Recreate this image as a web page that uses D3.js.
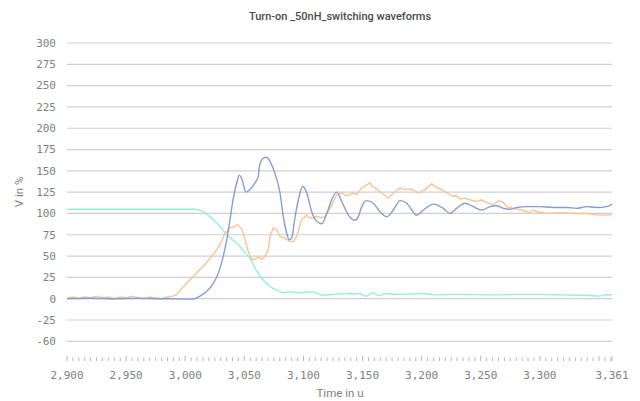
<!DOCTYPE html>
<html>
<head>
<meta charset="utf-8">
<script src="https://cdn.jsdelivr.net/npm/d3@7"></script>
<style>
  html, body { margin: 0; padding: 0; background: #fff; }
  svg { display: block; }
</style>
</head>
<body>
<div id="vis"></div>
<script>
// tick labels and values
const yTicks = [300, 275, 250, 225, 200, 175, 150, 125, 100, 75, 50, 25, 0, -25, -50];
const yTickLabels = ["300", "275", "250", "225", "200", "175", "150", "125", "100", "75", "50", "25", "0", "-25", "-60"];
const xTicks = [2900, 2950, 3000, 3050, 3100, 3150, 3200, 3250, 3300, 3361];

// [time, value] per series
const blueSeries = [
  [2900, 0], [2920, 0.5], [2940, 0], [2960, 0.5], [2978.7, 0], [2990, 0], [3000, -0.5], [3006.8, -0.3],
  [3012.5, 3], [3018.2, 8.6], [3023.8, 18], [3028, 30], [3032.2, 50], [3035.1, 69], [3037.9, 93],
  [3040.7, 118], [3043.6, 136], [3045.7, 145], [3047.8, 141], [3051.4, 125], [3054.8, 128], [3059, 136],
  [3061.8, 143], [3062.7, 155], [3066, 165], [3068.9, 166], [3071.7, 161], [3075.9, 147], [3080.2, 124],
  [3083, 96], [3085.8, 77], [3088, 69], [3090, 71], [3092.9, 96], [3095.7, 116], [3099.4, 132],
  [3102.8, 124], [3107, 102], [3111.2, 91], [3115.5, 88], [3119.7, 100], [3123.9, 116], [3128.1, 125],
  [3132.4, 114], [3138, 98], [3143.6, 92], [3146.4, 96], [3149.3, 108], [3153.5, 115], [3159.1, 112],
  [3164.8, 102], [3170.4, 96], [3176, 104], [3181.7, 115], [3187.4, 112], [3191.6, 104], [3195.8, 98],
  [3201.4, 104], [3209.9, 111], [3218.3, 106], [3224, 100], [3229.6, 106], [3236.7, 112], [3243.7, 108],
  [3250.8, 104], [3257.8, 108], [3263.5, 109], [3269.1, 106], [3274.7, 105], [3280.4, 107], [3288.9, 108],
  [3300.1, 108], [3311.4, 107], [3322.7, 107], [3331.2, 106], [3339.6, 108], [3348.1, 107], [3356.5, 108],
  [3361, 111]
];

const orangeSeries = [
  [2900, 1], [2905, 2], [2910, 0], [2915, 2], [2920, 1], [2925, 3], [2930, 1], [2935, 2], [2940, 0],
  [2945, 2], [2950, 1], [2955, 3], [2960, 1], [2965, 0], [2970, 2], [2975, 1], [2980, 0], [2985, 2],
  [2989.9, 3], [2992.8, 5], [2998.4, 14], [3006.8, 26], [3015.3, 38], [3023.8, 52], [3029.4, 63],
  [3033.6, 77], [3037.9, 83], [3040.7, 84], [3044.1, 87], [3047.8, 82], [3050.6, 69], [3053.4, 55],
  [3056.2, 46], [3059, 46], [3061.8, 49], [3064.7, 46], [3067.5, 50], [3070.3, 57], [3071.7, 73],
  [3074.5, 83], [3077.4, 81], [3080.2, 73], [3084.4, 71], [3088.6, 67], [3091.4, 67], [3094.3, 73],
  [3098.5, 93], [3102.8, 98], [3105, 95], [3108.4, 95], [3111, 97], [3114, 95], [3118.3, 96], [3122.5, 106],
  [3128.1, 122], [3132.4, 124], [3136, 121], [3139.4, 122], [3142, 124], [3145.1, 122], [3149.3, 130],
  [3153, 133], [3156.3, 136], [3158, 132], [3160.6, 130], [3166.2, 124], [3171.8, 118], [3176, 124],
  [3181.7, 130], [3185, 128], [3190.2, 129], [3193, 127], [3197.2, 124], [3202.8, 128], [3208.5, 135],
  [3212, 131], [3215.5, 129], [3221.2, 124], [3226.8, 120], [3229, 121], [3232.5, 117], [3237, 118],
  [3240.9, 116], [3246.6, 114], [3250, 116], [3255, 113], [3260.6, 110], [3265, 115], [3269.1, 113],
  [3271.9, 108], [3277.5, 106], [3284.6, 104], [3291.7, 101], [3294, 104], [3297.3, 102], [3305.8, 100],
  [3317, 101], [3328.3, 100], [3339.6, 100], [3350.9, 98], [3359.3, 98], [3361, 100]
];

const mintSeries = [
  [2900, 105], [3008.3, 105], [3015.3, 102], [3021, 96], [3029.4, 85], [3035.1, 75], [3043.6, 65],
  [3050.6, 54], [3056.3, 44], [3059, 36], [3061.8, 30], [3066, 22], [3070.3, 16], [3074.3, 12],
  [3078, 10], [3082.7, 7], [3088.7, 8], [3097.1, 7], [3108, 8], [3116.6, 4], [3125, 5], [3136.9, 6],
  [3142, 5.5], [3147, 6], [3153, 3], [3158, 7], [3164, 3.5], [3170, 6], [3178, 5], [3190, 5.5],
  [3202, 6], [3212, 4.5], [3230, 5], [3260, 4.5], [3290, 5], [3320, 4.5], [3340, 4], [3350, 3],
  [3356, 4.7], [3361, 4.3]
];

const width = 640, height = 401;
const plotLeft = 67, plotRight = 612, plotTop = 43, plotBottom = 341.3;

const svg = d3.select("#vis").append("svg")
    .attr("width", width)
    .attr("height", height);

const x = d3.scaleLinear().domain([2900, 3361]).range([plotLeft, plotRight]);
const y = d3.scaleLinear().domain([-50, 300]).range([plotBottom, plotTop]);

// title
svg.append("text")
    .attr("x", 340).attr("y", 20)
    .attr("text-anchor", "middle")
    .style("font-family", "Roboto, sans-serif")
    .style("font-weight", 500)
    .style("font-size", "11px")
    .style("fill", "#4a4a4a")
    .text("Turn-on _50nH_switching waveforms");

// gridlines
svg.append("g").selectAll("line")
    .data(yTicks)
    .enter().append("line")
    .attr("x1", plotLeft).attr("x2", plotRight)
    .attr("y1", (d) => y(d)).attr("y2", (d) => y(d))
    .attr("stroke", "#cfcfcf")
    .attr("stroke-width", 1.2);

// y labels
svg.append("g").selectAll("text")
    .data(yTicks)
    .enter().append("text")
    .attr("x", 56)
    .attr("y", (d) => y(d))
    .attr("dy", "0.35em")
    .attr("text-anchor", "end")
    .style("font-family", "'DejaVu Sans Mono', monospace")
    .style("font-size", "11px")
    .style("fill", "#808080")
    .text((d, i) => yTickLabels[i]);

// x axis: minor ticks every 5, labels at xTicks
const minor = d3.range(2900, 3361, 5).concat([3361]);
const xAxis = svg.append("g");
xAxis.selectAll("line")
    .data(minor)
    .enter().append("line")
    .attr("x1", (d) => x(d)).attr("x2", (d) => x(d))
    .attr("y1", (d) => (d % 50 === 0 || d === 3361) ? 356 : 357.5)
    .attr("y2", 361)
    .attr("stroke", "#b5b5b5")
    .attr("stroke-width", 1);

xAxis.selectAll("text")
    .data(xTicks)
    .enter().append("text")
    .attr("x", (d) => x(d))
    .attr("y", 379)
    .attr("text-anchor", "middle")
    .style("font-family", "'DejaVu Sans Mono', monospace")
    .style("font-size", "11px")
    .style("fill", "#808080")
    .text((d) => d3.format(",")(d));

// axis titles
svg.append("text")
    .attr("x", 340).attr("y", 397)
    .attr("text-anchor", "middle")
    .style("font-family", "Roboto, sans-serif")
    .style("font-size", "11.5px")
    .style("fill", "#808080")
    .text("Time in u");

svg.append("text")
    .attr("transform", "translate(23,192) rotate(-90)")
    .attr("text-anchor", "middle")
    .style("font-family", "Roboto, sans-serif")
    .style("font-size", "11.5px")
    .style("fill", "#808080")
    .text("V in %");

// lines
const smooth = d3.line()
    .x((d) => x(d[0]))
    .y((d) => y(d[1]))
    .curve(d3.curveMonotoneX);

const jagged = d3.line()
    .x((d) => x(d[0]))
    .y((d) => y(d[1]));

const series = [
  { data: mintSeries, color: "#93f3d0", gen: smooth },
  { data: orangeSeries, color: "#fbc293", gen: jagged },
  { data: blueSeries, color: "#849dd3", gen: smooth }
];

svg.append("g").selectAll("path")
    .data(series)
    .enter().append("path")
    .attr("d", (d) => d.gen(d.data))
    .attr("fill", "none")
    .attr("stroke", (d) => d.color)
    .attr("stroke-width", 1.4);
</script>
</body>
</html>
